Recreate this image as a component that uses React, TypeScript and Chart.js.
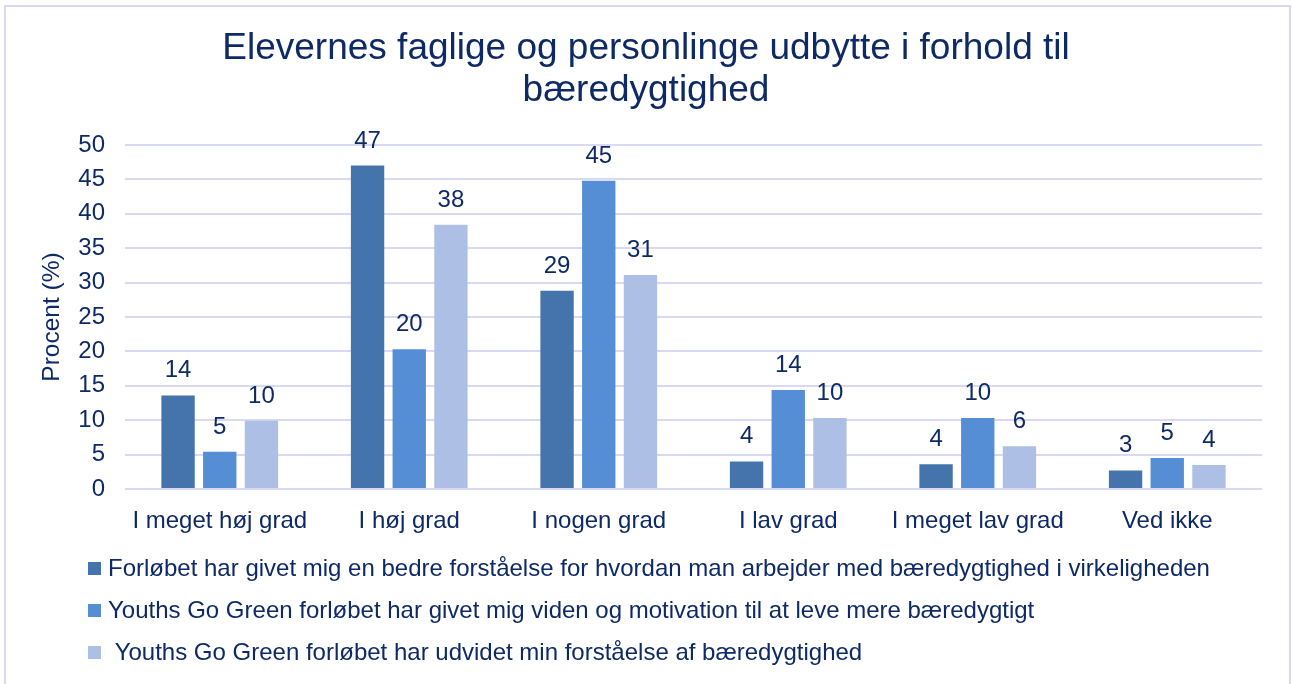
import React, { useEffect, useRef } from 'react';
import { Chart, registerables } from 'chart.js';

Chart.register(...registerables);

const TITLE_LINES = ['Elevernes faglige og personlinge udbytte i forhold til', 'bæredygtighed'];
const CATEGORIES = ['I meget høj grad', 'I høj grad', 'I nogen grad', 'I lav grad', 'I meget lav grad', 'Ved ikke'];
const SERIES_NAMES = [
  'Forløbet har givet mig en bedre forståelse for hvordan man arbejder med bæredygtighed i virkeligheden',
  'Youths Go Green forløbet har givet mig viden og motivation til at leve mere bæredygtigt',
  ' Youths Go Green forløbet har udvidet min forståelse af bæredygtighed',
];
const SERIES_1 = [13.6, 47.0, 28.8, 4.0, 3.6, 2.7];
const SERIES_2 = [5.4, 20.3, 44.8, 14.4, 10.3, 4.5];
const SERIES_3 = [9.9, 38.4, 31.1, 10.3, 6.2, 3.5];
const SERIES_COLORS = ['#4574AD', '#558ED5', '#ADBFE4'];
const Y_MIN = 0;
const Y_MAX = 50;
const Y_STEP = 5;
const Y_TITLE = 'Procent (%)';

const TEXT = '#0E2A66';
const GRID = '#D9D9F2';
const FONT = "'Liberation Sans', Arial, sans-serif";

const framePlugin = {
  id: 'frame',
  beforeDraw(chart: any) {
    const ctx = chart.ctx;
    ctx.save();
    ctx.fillStyle = '#ffffff';
    ctx.fillRect(0, 0, chart.width, chart.height);
    ctx.strokeStyle = GRID;
    ctx.lineWidth = 2;
    ctx.strokeRect(5, 6, 1285, 720);
    ctx.restore();
  },
};

const dataLabelPlugin = {
  id: 'dataLabels',
  afterDatasetsDraw(chart: any) {
    const ctx = chart.ctx;
    ctx.save();
    ctx.font = `24px ${FONT}`;
    ctx.fillStyle = TEXT;
    ctx.textAlign = 'center';
    ctx.textBaseline = 'alphabetic';
    chart.data.datasets.forEach((ds: any, di: number) => {
      const meta = chart.getDatasetMeta(di);
      meta.data.forEach((bar: any, i: number) => {
        const v = ds.data[i];
        ctx.fillText(String(Math.round(v)), bar.x, bar.y - 18);
      });
    });
    ctx.restore();
  },
};

const legendPlugin = {
  id: 'customLegend',
  afterDraw(chart: any) {
    const ctx = chart.ctx;
    ctx.save();
    ctx.font = `24px ${FONT}`;
    ctx.textAlign = 'left';
    ctx.textBaseline = 'alphabetic';
    const baseY = 576;
    const rowGap = 42;
    chart.data.datasets.forEach((ds: any, i: number) => {
      const y = baseY + i * rowGap;
      ctx.fillStyle = ds.backgroundColor;
      ctx.fillRect(88, y - 14, 13, 13);
      ctx.fillStyle = TEXT;
      ctx.fillText(ds.label, 108, y);
    });
    ctx.restore();
  },
};

export default function App() {
  const ref = useRef<HTMLCanvasElement | null>(null);

  useEffect(() => {
    if (!ref.current) return;
    Chart.defaults.font.family = FONT;
    const chart = new Chart(ref.current, {
      type: 'bar',
      data: {
        labels: CATEGORIES,
        datasets: [SERIES_1, SERIES_2, SERIES_3].map((d, i) => ({
          label: SERIES_NAMES[i],
          data: d,
          backgroundColor: SERIES_COLORS[i],
          borderWidth: 0,
          categoryPercentage: 0.66,
          barPercentage: 0.8,
        })),
      },
      options: {
        responsive: false,
        animation: false,
        layout: { padding: { left: 30, right: 30, top: 0, bottom: 145 } },
        plugins: {
          legend: { display: false },
          tooltip: { enabled: false },
          title: {
            display: true,
            text: TITLE_LINES,
            color: TEXT,
            font: { size: 37, weight: 'normal', lineHeight: 1.145, family: FONT },
            padding: { top: 27.7, bottom: 32.5 },
          },
        },
        scales: {
          x: {
            grid: { display: false },
            border: { display: false },
            ticks: {
              color: TEXT,
              font: { size: 24, family: FONT },
              padding: 10,
              maxRotation: 0,
              autoSkip: false,
            },
            afterFit: (scale: any) => {
              scale.height = 50;
            },
          },
          y: {
            min: Y_MIN,
            max: Y_MAX,
            border: { display: false },
            grid: { color: GRID, lineWidth: 2, drawTicks: false },
            ticks: {
              stepSize: Y_STEP,
              color: TEXT,
              font: { size: 24, family: FONT },
              padding: 20,
            },
            title: {
              display: true,
              text: Y_TITLE,
              color: TEXT,
              font: { size: 24.5, family: FONT, lineHeight: 1.2 },
              padding: { top: 8, bottom: 0 },
            },
            afterFit: (scale: any) => {
              scale.width = 95;
            },
          },
        },
      },
      plugins: [framePlugin, dataLabelPlugin, legendPlugin],
    } as any);
    return () => chart.destroy();
  }, []);

  return (
    <div style={{ position: 'absolute', left: 0, top: 0, width: 1292, height: 684, background: '#fff' }}>
      <canvas ref={ref} width={1292} height={684} style={{ display: 'block' }} />
    </div>
  );
}
